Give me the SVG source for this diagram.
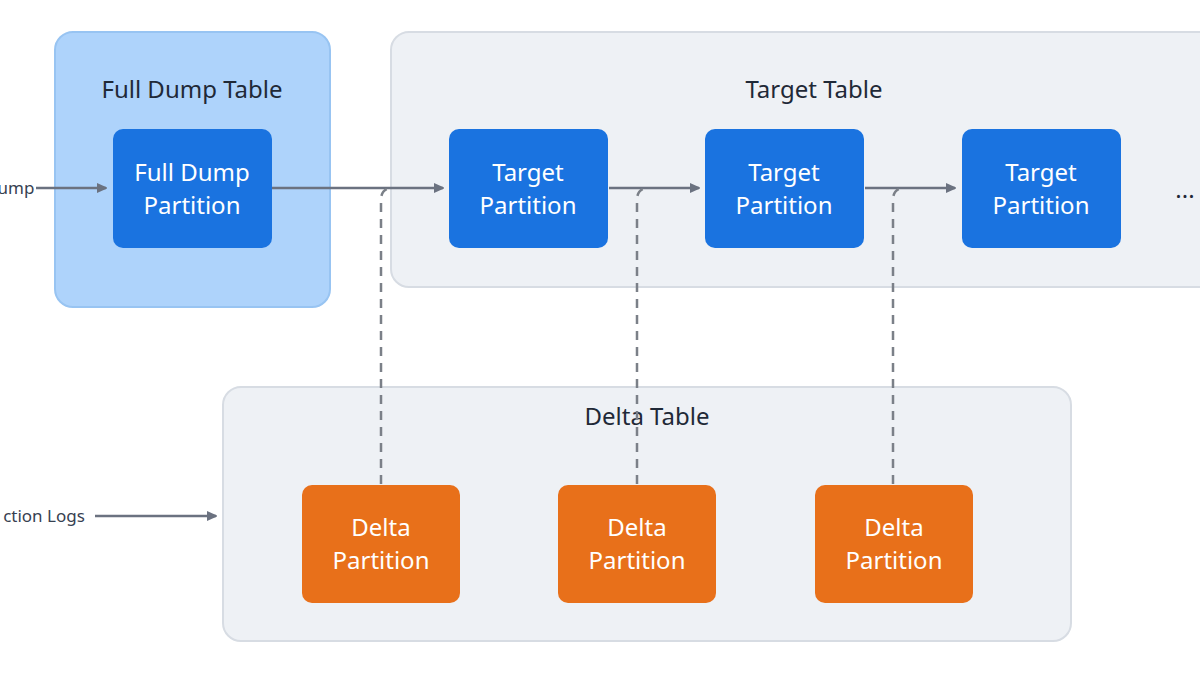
<svg xmlns="http://www.w3.org/2000/svg" width="1200" height="675" viewBox="0 0 1200 675">
<defs>
<marker id="ah" markerWidth="10" markerHeight="10" refX="9" refY="5" orient="auto" markerUnits="userSpaceOnUse"><path d="M0,0 L11,5 L0,10 Z" fill="#6b7280"/></marker>
<style>
text{font-family:"Noto Sans","Liberation Sans",sans-serif;text-anchor:middle}
.t{font-size:24px;fill:#1f2937}
.n{font-size:24px;fill:#ffffff}
.lbl{font-size:17px;fill:#374151}
.blue{fill:#1a73e0}
.orange{fill:#e8701a}
.grp{fill:#eef1f5;stroke:#d7dce3;stroke-width:2}
.ln{stroke:#6b7280;stroke-width:2.5;fill:none}
.ds{stroke:#7b8088;stroke-width:2.5;fill:none;stroke-dasharray:9 7}
</style>
</defs>
<rect width="1200" height="675" fill="#ffffff"/>
<g id="target-table"><rect class="grp" x="391" y="32" width="830" height="255" rx="18"/><text class="t" x="814" y="98">Target Table</text></g>
<g id="delta-table"><rect class="grp" x="223" y="387" width="848" height="254" rx="18"/><text class="t" x="647" y="425">Delta Table</text></g>
<g id="full-dump-table"><rect x="55" y="32" width="275" height="275" rx="18" fill="#aed3fb" stroke="#98c4f2" stroke-width="2"/><text class="t" x="192" y="98">Full Dump Table</text></g>
<g id="connectors">
<path class="ln" d="M36,188 H106" marker-end="url(#ah)"/>
<path class="ln" d="M272,188 H443" marker-end="url(#ah)"/>
<path class="ln" d="M609,188 H699" marker-end="url(#ah)"/>
<path class="ln" d="M865,188 H955" marker-end="url(#ah)"/>
<path class="ln" d="M95,516 H216" marker-end="url(#ah)"/>
<path class="ds" d="M381,484 V200 Q381,188 393,188"/>
<path class="ds" d="M637,484 V200 Q637,188 649,188"/>
<path class="ds" d="M893,484 V200 Q893,188 905,188"/>
</g>
<text class="lbl" x="16" y="194">ump</text>
<text class="lbl" x="44" y="522">ction Logs</text>
<text class="t" x="1185" y="198">...</text>
<g id="full-dump-partition"><rect class="blue" x="113" y="129" width="159" height="119" rx="10"/><text class="n" x="192" y="181">Full Dump</text><text class="n" x="192" y="214">Partition</text></g>
<g id="target-1"><rect class="blue" x="449" y="129" width="159" height="119" rx="10"/><text class="n" x="528" y="181">Target</text><text class="n" x="528" y="214">Partition</text></g>
<g id="target-2"><rect class="blue" x="705" y="129" width="159" height="119" rx="10"/><text class="n" x="784" y="181">Target</text><text class="n" x="784" y="214">Partition</text></g>
<g id="target-3"><rect class="blue" x="962" y="129" width="159" height="119" rx="10"/><text class="n" x="1041" y="181">Target</text><text class="n" x="1041" y="214">Partition</text></g>
<g id="delta-1"><rect class="orange" x="302" y="485" width="158" height="118" rx="10"/><text class="n" x="381" y="536">Delta</text><text class="n" x="381" y="569">Partition</text></g>
<g id="delta-2"><rect class="orange" x="558" y="485" width="158" height="118" rx="10"/><text class="n" x="637" y="536">Delta</text><text class="n" x="637" y="569">Partition</text></g>
<g id="delta-3"><rect class="orange" x="815" y="485" width="158" height="118" rx="10"/><text class="n" x="894" y="536">Delta</text><text class="n" x="894" y="569">Partition</text></g>
</svg>
